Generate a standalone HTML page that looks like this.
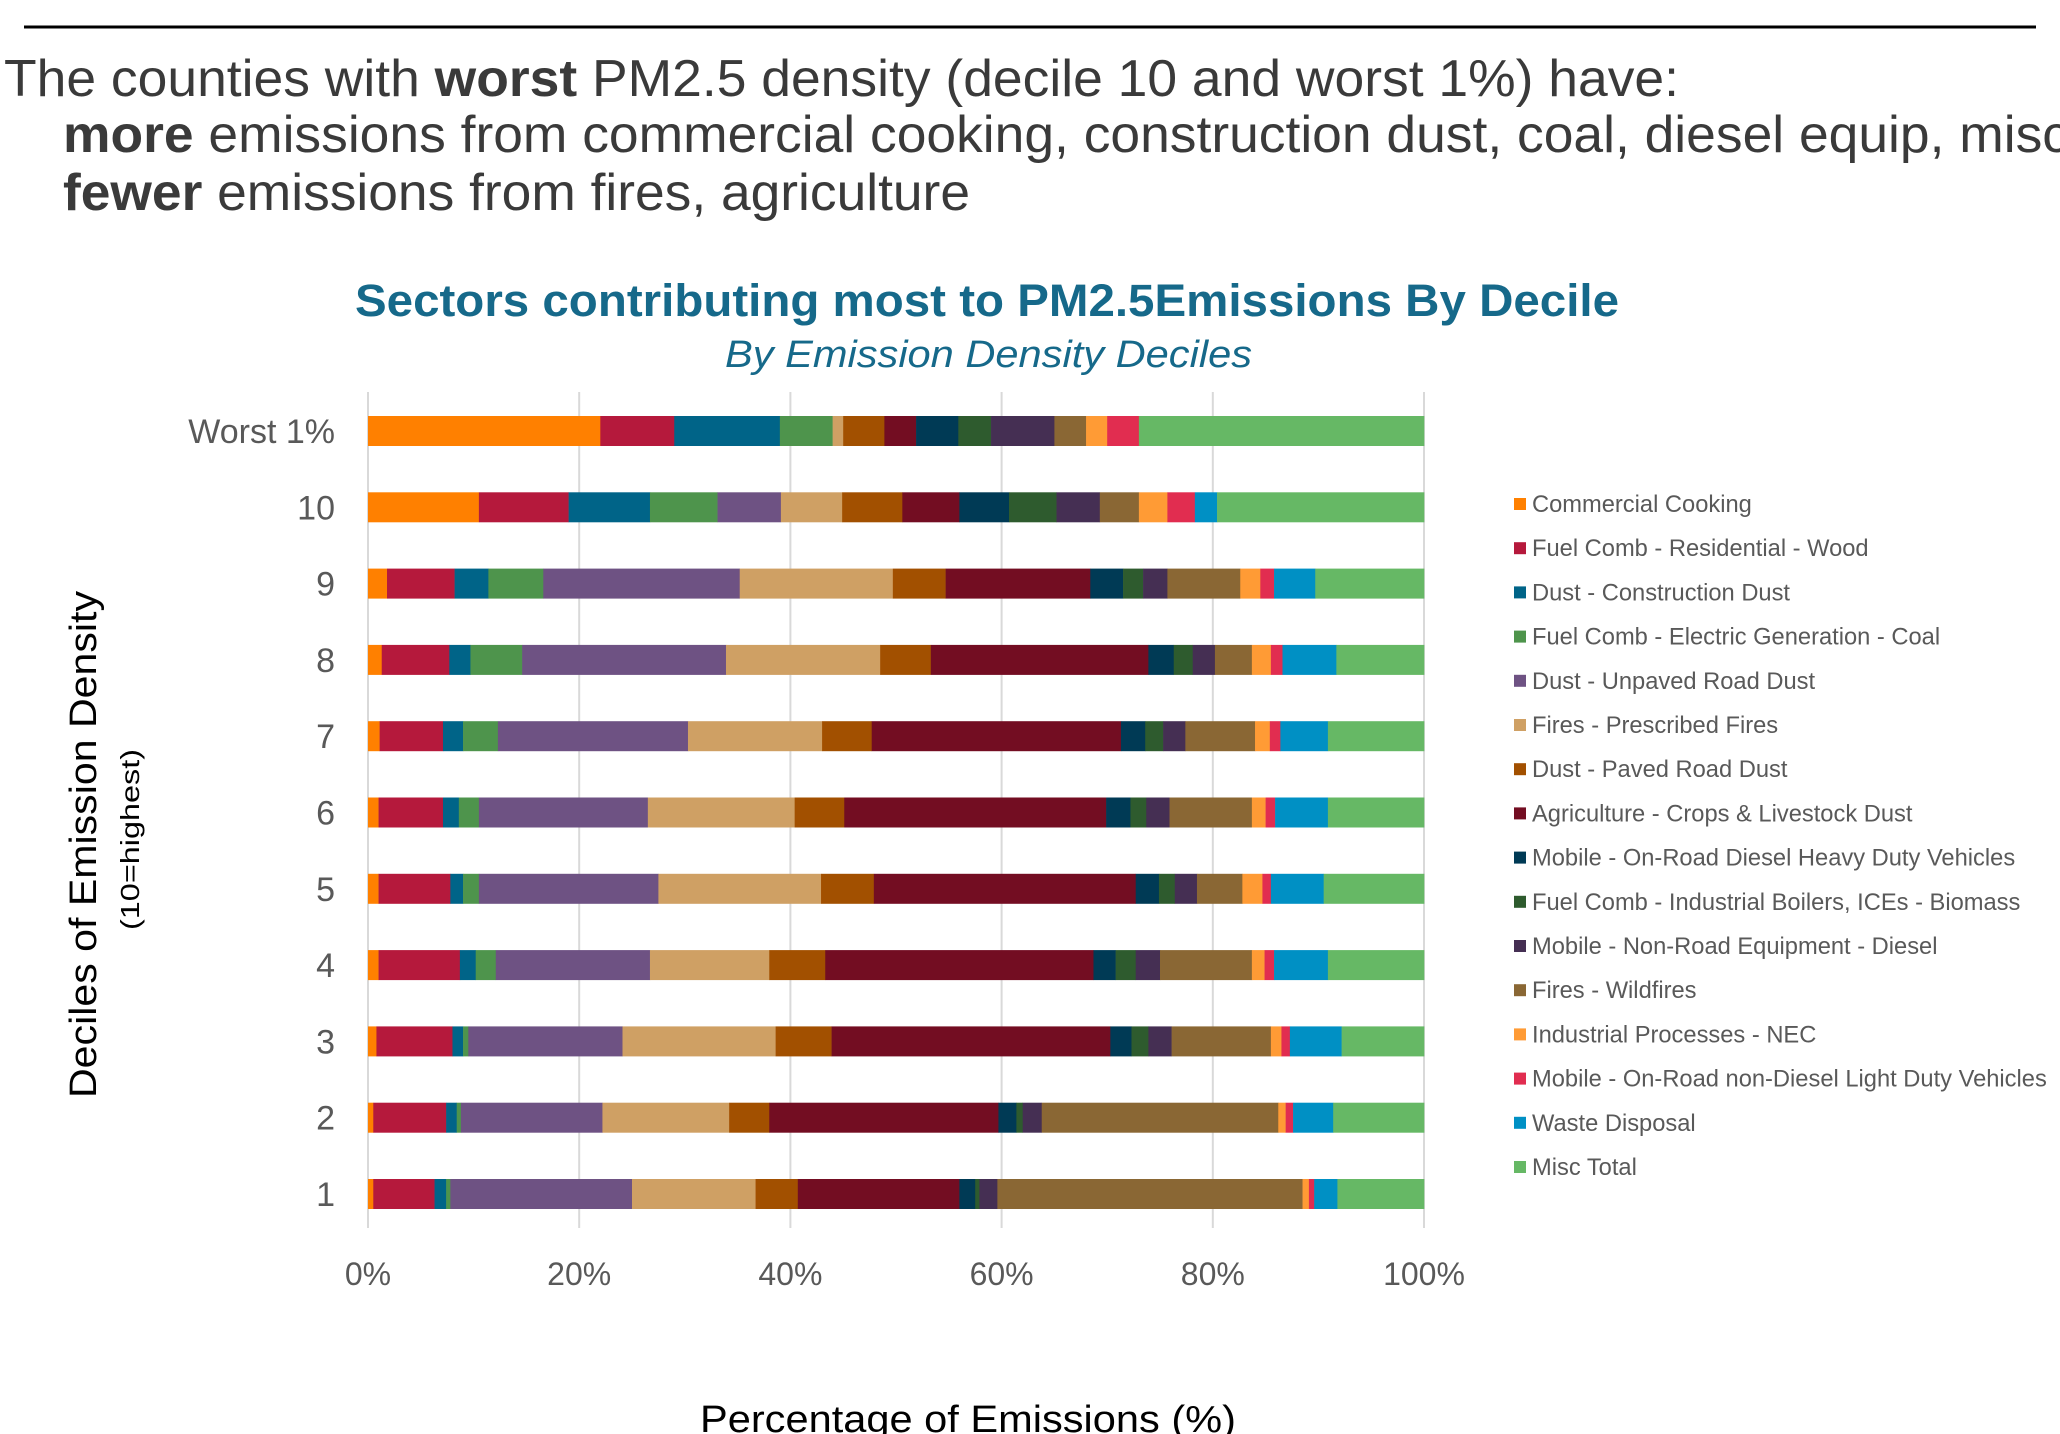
<!DOCTYPE html>
<html><head><meta charset="utf-8"><style>
html,body{margin:0;padding:0;background:#fff;}
svg{display:block;font-family:"Liberation Sans",Arial,sans-serif;}
</style></head><body>
<svg id="chart" width="2060" height="1434" viewBox="0 0 2060 1434" xmlns="http://www.w3.org/2000/svg">
<rect width="2060" height="1434" fill="#fff"/>
<line x1="24" y1="27" x2="2036" y2="27" stroke="#000" stroke-width="3"/>
<text x="4" y="96" font-size="52" fill="#3a3a3a" textLength="1675" lengthAdjust="spacingAndGlyphs">The counties with <tspan font-weight="bold">worst</tspan> PM2.5 density (decile 10 and worst 1%) have:</text>
<text x="63" y="152" font-size="52" fill="#3a3a3a" textLength="2006" lengthAdjust="spacingAndGlyphs"><tspan font-weight="bold">more</tspan> emissions from commercial cooking, construction dust, coal, diesel equip, misc</text>
<text x="63" y="210" font-size="52" fill="#3a3a3a" textLength="907" lengthAdjust="spacingAndGlyphs"><tspan font-weight="bold">fewer</tspan> emissions from fires, agriculture</text>
<text x="355" y="316" font-size="45" font-weight="bold" fill="#16698a" textLength="1264" lengthAdjust="spacingAndGlyphs">Sectors contributing most to PM2.5Emissions By Decile</text>
<text x="725" y="367" font-size="38" font-style="italic" fill="#16698a" textLength="527" lengthAdjust="spacingAndGlyphs">By Emission Density Deciles</text>
<text transform="translate(96,1098) rotate(-90)" font-size="38" fill="#000" textLength="507" lengthAdjust="spacingAndGlyphs">Deciles of Emission Density</text>
<text transform="translate(139,930) rotate(-90)" font-size="26" fill="#000" textLength="181" lengthAdjust="spacingAndGlyphs">(10=highest)</text>
<text x="700" y="1432" font-size="38" fill="#000" textLength="536" lengthAdjust="spacingAndGlyphs">Percentage of Emissions (%)</text>
<g id="grid"></g><g id="bars"></g><g id="ylabels"></g><g id="xticks"></g><g id="legend"></g>
</svg>
<script>
const categories = ["Worst 1%","10","9","8","7","6","5","4","3","2","1"];
const seriesNames = ["Commercial Cooking","Fuel Comb - Residential - Wood","Dust - Construction Dust","Fuel Comb - Electric Generation - Coal","Dust - Unpaved Road Dust","Fires - Prescribed Fires","Dust - Paved Road Dust","Agriculture - Crops & Livestock Dust","Mobile - On-Road Diesel Heavy Duty Vehicles","Fuel Comb - Industrial Boilers, ICEs - Biomass","Mobile - Non-Road Equipment - Diesel","Fires - Wildfires","Industrial Processes - NEC","Mobile - On-Road non-Diesel Light Duty Vehicles","Waste Disposal","Misc Total"];
const colors = ["#ff8000","#b5193c","#006488","#4e944c","#6e5283","#cfa064","#a25000","#730d22","#003a55","#2e5b2e","#452f53","#8a6734","#ff9b35","#e12d50","#0090c4","#66b865"];
const valWorst1 = [22,7,10,5,0,1,3.9,3,4,3.1,6,3,2,3,0,27];
const val10 = [10.5,8.5,7.7,6.4,6.0,5.8,5.7,5.4,4.7,4.5,4.1,3.7,2.7,2.6,2.1,19.6];
const val9 = [1.8,6.4,3.2,5.2,18.6,14.5,5.0,13.7,3.1,1.9,2.3,6.9,1.9,1.3,3.9,10.3];
const val8 = [1.3,6.4,2.0,4.9,19.3,14.6,4.8,20.6,2.4,1.8,2.1,3.5,1.8,1.1,5.1,8.3];
const val7 = [1.1,6.0,1.9,3.3,18.0,12.7,4.7,23.6,2.3,1.7,2.1,6.6,1.4,1.0,4.5,9.1];
const val6 = [1.0,6.1,1.5,1.9,16.0,13.9,4.7,24.8,2.3,1.5,2.2,7.8,1.3,0.9,5.0,9.1];
const val5 = [1.0,6.8,1.2,1.5,17.0,15.4,5.0,24.8,2.2,1.5,2.1,4.3,1.9,0.8,5.0,9.5];
const val4 = [1.0,7.7,1.5,1.9,14.6,11.3,5.3,25.4,2.1,1.9,2.3,8.7,1.2,0.9,5.1,9.1];
const val3 = [0.8,7.2,1.0,0.5,14.6,14.5,5.3,26.4,2.0,1.6,2.2,9.4,1.0,0.8,4.9,7.8];
const val2 = [0.5,6.9,1.0,0.4,13.4,12.0,3.8,21.7,1.7,0.6,1.8,22.4,0.7,0.7,3.8,8.6];
const val1 = [0.5,5.8,1.1,0.4,17.2,11.7,4.0,15.3,1.5,0.4,1.7,28.9,0.6,0.5,2.2,8.2];
const rows = [valWorst1,val10,val9,val8,val7,val6,val5,val4,val3,val2,val1];
const xTicks = [0,20,40,60,80,100];
const xTickLabels = ["0%","20%","40%","60%","80%","100%"];

const NS="http://www.w3.org/2000/svg";
const X0=368, X1=1424, Y0=431, DY=76.3, BH=30;
const xs = p => X0 + (X1-X0)*p/100;
const ys = i => Y0 + i*DY;
function mk(tag, parent, attrs){const e=document.createElementNS(NS,tag);for(const k in attrs)e.setAttribute(k,attrs[k]);parent.appendChild(e);return e;}
const grid=document.getElementById('grid'), bars=document.getElementById('bars'), yl=document.getElementById('ylabels'), xt=document.getElementById('xticks'), lg=document.getElementById('legend');
xTicks.forEach((t,i)=>{
  const l=mk('line',grid,{x1:xs(t),x2:xs(t),y1:392,y2:1228,stroke:'#d9d9d9','stroke-width':2});
  
  
  const tx=mk('text',xt,{x:xs(t),y:1285,'font-size':32,fill:'#595959','text-anchor':'middle'});
  tx.textContent=xTickLabels[i];
  
  
});
rows.forEach((vals,i)=>{
  const total=vals.reduce((a,b)=>a+b,0);
  let cum=0;
  vals.forEach((v,j)=>{
    if(v<=0) return;
    const a=xs(cum/total*100), b=xs((cum+v)/total*100);
    const r=mk('rect',bars,{x:a,y:ys(i)-BH/2,width:b-a+0.3,height:BH,fill:colors[j]});
    
    
    cum+=v;
  });
  const t=mk('text',yl,{x:335,y:ys(i)+12,'font-size':34,fill:'#595959','text-anchor':'end'});
  t.textContent=categories[i];
  
  
});
seriesNames.forEach((n,j)=>{
  const y=504+j*44.2;
  const s=mk('rect',lg,{x:1514,y:y-6,width:12,height:12,fill:colors[j]});
  
  
  const t=mk('text',lg,{x:1532,y:y+8,'font-size':23.7,fill:'#595959'});
  t.textContent=n;
  
  
});
</script>
</body></html>
